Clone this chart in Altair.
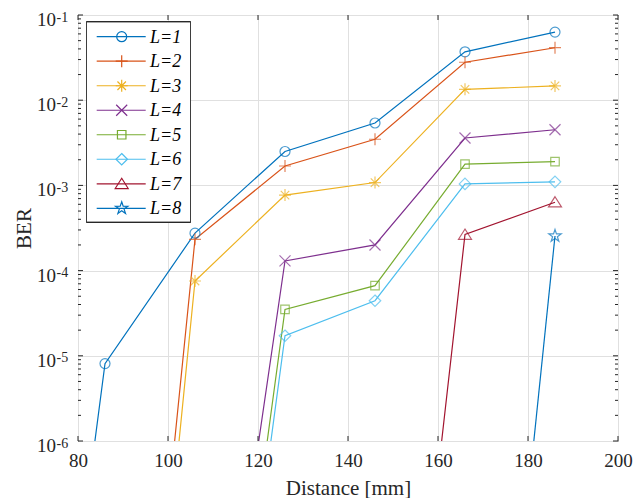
import altair as alt
import pandas as pd

# ---------------- data ----------------
distance = [66, 86, 106, 126, 146, 166, 186]
labels = ["L=1", "L=2", "L=3", "L=4", "L=5", "L=6", "L=7", "L=8"]
ber_L1 = [6.3e-14, 8.1e-6, 2.75e-4, 2.5e-3, 5.4e-3, 3.7e-2, 6.3e-2]
ber_L2 = [None, 7.9e-15, 2.33e-4, 1.69e-3, 3.48e-3, 2.79e-2, 4.13e-2]
ber_L3 = [None, 1.9e-15, 7.55e-5, 7.7e-4, 1.08e-3, 1.34e-2, 1.47e-2]
ber_L4 = [None, None, 7.4e-12, 1.3e-4, 2.0e-4, 3.6e-3, 4.5e-3]
ber_L5 = [None, None, 5.2e-13, 3.5e-5, 6.65e-5, 1.78e-3, 1.9e-3]
ber_L6 = [None, None, 2.2e-13, 1.72e-5, 4.43e-5, 1.04e-3, 1.1e-3]
ber_L7 = [None, None, None, None, 1.2e-13, 2.65e-4, 6.35e-4]
ber_L8 = [None, None, None, None, None, 1.5e-14, 2.55e-4]
series = [ber_L1, ber_L2, ber_L3, ber_L4, ber_L5, ber_L6, ber_L7, ber_L8]

x_ticks = [80, 100, 120, 140, 160, 180, 200]
y_ticks = [1e-6, 1e-5, 1e-4, 1e-3, 1e-2, 1e-1]
y_exponents = ["-6", "-5", "-4", "-3", "-2", "-1"]
y_minor = [k * 10.0 ** e for e in range(-6, -1) for k in range(2, 10)]

colors = ["#0072BD", "#D95319", "#EDB120", "#7E2F8E", "#77AC30", "#4DBEEE", "#A2142F", "#0072BD"]
shapes = [
    "circle",
    "M-1.2,0H1.2M0,-1.2V1.2",
    "M-1.2,0H1.2M0,-1.2V1.2M-0.85,-0.85L0.85,0.85M-0.85,0.85L0.85,-0.85",
    "M-1.1,-1.1L1.1,1.1M-1.1,1.1L1.1,-1.1",
    "M-0.85,-0.85H0.85V0.85H-0.85Z",
    "M0,-1.15L1.15,0L0,1.15L-1.15,0Z",
    "M0,-1.1L1.3,0.95L-1.3,0.95Z",
    "M0,-1.3L0.294,-0.405L1.236,-0.402L0.476,0.155L0.764,1.052L0,0.5L-0.764,1.052L-0.476,0.155L-1.236,-0.402L-0.294,-0.405Z",
]

rows = []
for lab, vals in zip(labels, series):
    for d, v in zip(distance, vals):
        if v is not None:
            rows.append({"distance": d, "ber": v, "L": lab})
df = pd.DataFrame(rows)

W, H = 540, 426
FONT = "Liberation Serif"
INK = "#262626"

xscale = alt.Scale(domain=[80, 200], nice=False, zero=False)
yscale = alt.Scale(type="log", domain=[1e-6, 1e-1], nice=False)
cscale = alt.Scale(domain=labels, range=colors)
sscale = alt.Scale(domain=labels, range=shapes)

X = alt.X("distance:Q", scale=xscale, axis=alt.Axis(
    values=x_ticks, grid=True, ticks=False, domain=False, labelFlush=False,
    labelPadding=10, labelFont=FONT, labelFontSize=19, labelColor=INK,
    title="Distance [mm]", titleFont=FONT, titleFontSize=21, titleFontWeight="normal",
    titleColor=INK, titleBaseline="alphabetic", titleAlign="center", titleX=W / 2, titleY=53))

lines = alt.Chart(df).mark_line(clip=True, strokeWidth=1.2).encode(
    x=X,
    y=alt.Y("ber:Q", scale=yscale, axis=alt.Axis(
        values=y_ticks, grid=True, labels=False, ticks=False, domain=False,
        title="BER", titleFont=FONT, titleFontSize=21, titleFontWeight="normal",
        titleColor=INK, titleBaseline="alphabetic", titleAlign="center",
        titleAngle=270, titleX=-48, titleY=213)),
    color=alt.Color("L:N", scale=cscale, legend=None),
    detail="L:N",
)

points = alt.Chart(df).mark_point(clip=True, filled=False, size=100, strokeWidth=1.2).encode(
    x=alt.X("distance:Q", scale=xscale),
    y=alt.Y("ber:Q", scale=yscale, axis=None),
    color=alt.Color("L:N", scale=cscale, legend=None),
    shape=alt.Shape("L:N", scale=sscale, legend=None),
)

xt = pd.DataFrame({"v": x_ticks})
yt = pd.DataFrame({"v": y_ticks, "e": y_exponents})
ym = pd.DataFrame({"v": y_minor})

def xtick(y0, y1):
    return alt.Chart(xt).mark_rule(color=INK, strokeWidth=1).encode(
        x=alt.X("v:Q", scale=xscale), y=alt.value(y0), y2=alt.value(y1))

def ytick(data, x0, x1):
    return alt.Chart(data).mark_rule(color=INK, strokeWidth=1).encode(
        y=alt.Y("v:Q", scale=yscale, axis=None), x=alt.value(x0), x2=alt.value(x1))

ticks = [
    xtick(H, H - 5), xtick(0, 5),
    ytick(yt, 0, 5), ytick(yt, W, W - 5),
    ytick(ym, 0, 3), ytick(ym, W, W - 3),
]

ylab_base = alt.Chart(yt).mark_text(text="10", align="right", baseline="alphabetic",
                                    dy=11, font=FONT, fontSize=19, color=INK).encode(
    y=alt.Y("v:Q", scale=yscale, axis=None), x=alt.value(-22))
ylab_exp = alt.Chart(yt).mark_text(align="left", baseline="alphabetic",
                                   dy=6.5, font=FONT, fontSize=14, color=INK).encode(
    y=alt.Y("v:Q", scale=yscale, axis=None), x=alt.value(-21.5), text="e:N")

# ---------------- legend (drawn as marks) ----------------
leg = pd.DataFrame({"L": labels})
LY = alt.Y("L:N", scale=alt.Scale(type="point", domain=labels, range=[21.7, 193.3], padding=0), axis=None)

leg_box = alt.Chart(leg).mark_rect(fill="white", stroke=INK, strokeWidth=0.8).encode(
    x=alt.value(8.5), x2=alt.value(112.5), y=alt.value(7), y2=alt.value(207))
leg_line = alt.Chart(leg).mark_rule(strokeWidth=1.2).encode(
    y=LY, x=alt.value(18.7), x2=alt.value(67.7),
    color=alt.Color("L:N", scale=cscale, legend=None))
leg_pt = alt.Chart(leg).mark_point(filled=False, size=100, strokeWidth=1.2, opacity=1).encode(
    y=LY, x=alt.value(43.7),
    color=alt.Color("L:N", scale=cscale, legend=None),
    shape=alt.Shape("L:N", scale=sscale, legend=None))
leg_txt = alt.Chart(leg).mark_text(align="left", baseline="alphabetic", dy=6, font=FONT,
                                   fontSize=18, fontStyle="italic", color="black").encode(
    y=LY, x=alt.value(72), text="L:N")

chart = alt.layer(
    lines, points, *ticks, ylab_base, ylab_exp, leg_box, leg_line, leg_pt, leg_txt
).resolve_scale(y="independent").properties(
    width=W, height=H,
    padding={"left": 70, "top": 7, "right": 15, "bottom": 57},
    autosize=alt.AutoSizeParams(type="none"),
).configure_view(stroke=INK, strokeWidth=1).configure_axis(
    gridColor="#E0E0E0", gridWidth=1
)

chart.save("out.html", embed_options={"renderer": "svg", "actions": False})
